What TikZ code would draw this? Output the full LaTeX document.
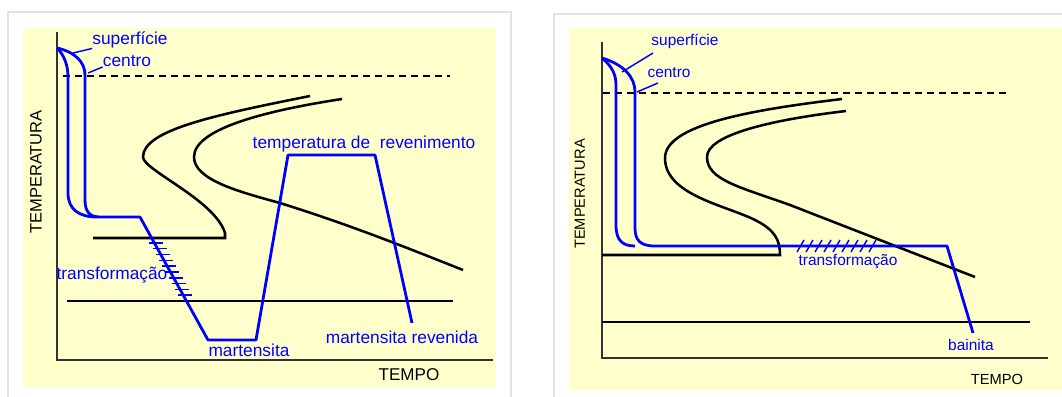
\documentclass[tikz,border=0pt]{standalone}
\usepackage{fontspec}
\setmainfont{Liberation Sans}
\usetikzlibrary{calc}
\definecolor{paper}{RGB}{255,255,204}
\definecolor{ink}{RGB}{0,0,255}
\definecolor{frame}{RGB}{226,226,226}
\tikzset{
  cool/.style={ink, line width=2.1pt, line join=round},
  tcurve/.style={black, line width=1.9pt},
  axis/.style={black!80, line width=1.5pt},
  lbl/.style={ink, inner sep=0pt, font=\fontsize{13}{15}\selectfont},
  lblr/.style={ink, inner sep=0pt, font=\fontsize{11.6}{13}\selectfont},
  hatch/.style={ink, line width=1.1pt},
}

\begin{document}
\begin{tikzpicture}[x=0.75pt,y=-0.75pt]
\useasboundingbox (0,0) rectangle (1062,396);
\fill[white] (0,0) rectangle (1062,396);

% left panel
\draw[frame, line width=1pt] (8,12) rectangle (511,400);
\fill[paper] (23,28) rectangle (496,387);
\draw[axis] (57,32) -- (57,360) -- (493,360);
\draw[black, line width=0.9pt, dash pattern=on 5pt off 4pt] (63,76) -- (450,76);
\draw[tcurve] (310,96) .. controls (215,115) and (143,130) .. (143,157)
   .. controls (143,170) and (215,200) .. (225,233) -- (225,238) -- (93,238);
\draw[tcurve] (342,99) .. controls (270,110) and (194,128) .. (194,157)
   .. controls (194,180) and (240,192) .. (280,203)
   .. controls (350,225) and (400,245) .. (463,270);
\draw[tcurve] (67,301) -- (453,301);
\draw[cool] (57,48) .. controls (64,55) and (68,65) .. (68,77) -- (68,193)
   .. controls (68,210) and (80,217) .. (97,217);
\draw[cool] (57,48) .. controls (75,52) and (85,62) .. (85,75) -- (85,200)
   .. controls (85,212) and (90,217) .. (100,217) -- (140,217) coordinate (dA)
   -- (208,340) coordinate (dB) -- (256,340) -- (288,155) -- (375,155) -- (412,323);
\foreach \k in {0,...,9}
   \draw[hatch] ($(dA)!0.211+0.0472*\k!(dB)$) ++(-5,0) -- ++(14,0);

\path
(130,40) node[lbl] (supL) {superfície}
(127,61) node[lbl] (cenL) {centro}
(364,144) node[lbl] (revL) {temperatura de\ \ revenimento}
(112,275) node[lbl] (traL) {transformação}
(249,350) node[lbl] (marL) {martensita}
(402,337) node[lbl] (mrvL) {martensita revenida}
(409,375) node[inner sep=0pt, font=\fontsize{12.8}{14}\selectfont] (tmpL) {TEMPO}
(36,172) node[inner sep=0pt, rotate=90, font=\fontsize{12.4}{14}\selectfont] (temL) {TEMPERATURA};
\draw[ink, line width=1.1pt] (73,53) -- (supL.south west);
\draw[ink, line width=1.1pt] (88,73) -- (cenL.south west);

% right panel
\draw[frame, line width=1pt] (554,14) rectangle (1070,400);
\fill[paper] (569,28) rectangle (1062,390);
\draw[axis] (602,42) -- (602,358) -- (1048,358);
\draw[black, line width=0.9pt, dash pattern=on 5pt off 4pt] (603,93) -- (1010,93);
\draw[tcurve] (842,99) .. controls (750,110) and (665,125) .. (665,158)
   .. controls (665,195) and (725,205) .. (755,220)
   .. controls (775,230) and (780,240) .. (780,255) -- (602,255);
\draw[tcurve] (846,111) .. controls (770,120) and (707,135) .. (707,157)
   .. controls (707,180) and (740,187) .. (790,205) -- (975,277);
\draw[tcurve] (602,322) -- (1030,322);
\draw[cool] (602,58) .. controls (610,65) and (616,72) .. (616,85) -- (616,225)
   .. controls (616,240) and (622,246) .. (635,246);
\draw[cool] (602,58) .. controls (625,65) and (635,78) .. (635,92) -- (635,228)
   .. controls (635,240) and (640,246) .. (655,246) -- (947,246) -- (973,333);
\foreach \x in {797,806,...,869}
   \draw[hatch] (\x,252) -- ++(7,-12);

\path
(685,41) node[lblr] (supR) {superfície}
(669,73) node[lblr] (cenR) {centro}
(848,262) node[lblr] (traR) {transformação}
(971,345) node[lblr] (baiR) {bainita}
(997,379) node[inner sep=0pt, font=\fontsize{11}{13}\selectfont] (tmpR) {TEMPO}
(580,194) node[inner sep=0pt, rotate=90, font=\fontsize{11}{13}\selectfont] (temR) {TEMPERATURA};
\draw[ink, line width=1.1pt] (622,72) -- (653,53);
\draw[ink, line width=1.1pt] (637,92) -- (658,83);

\end{tikzpicture}
\end{document}
